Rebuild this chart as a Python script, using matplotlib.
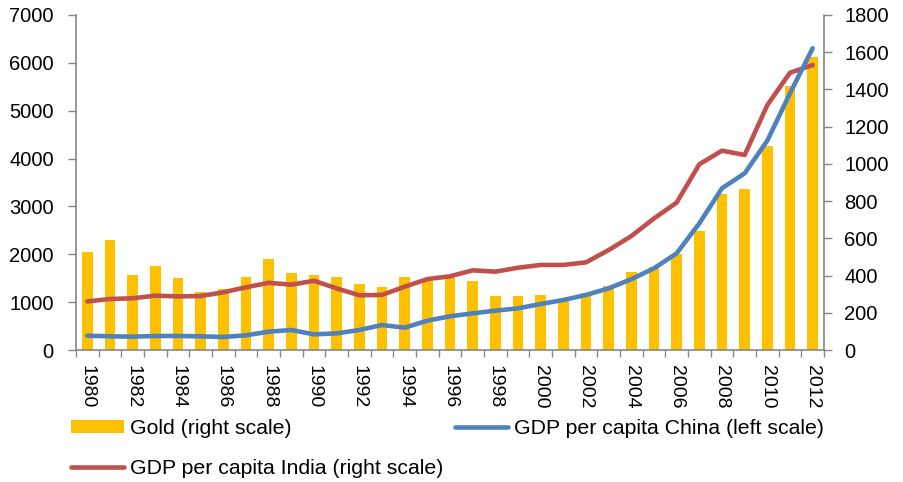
import matplotlib
matplotlib.use("Agg")
import matplotlib.pyplot as plt
import numpy as np

plt.rcParams['font.family'] = ['Liberation Sans', 'DejaVu Sans']

years = list(range(1980, 2013))
gold = [528, 591, 403, 450, 385, 313, 328, 392, 489, 414, 403, 394, 355, 337, 392,
        372, 388, 372, 290, 288, 294, 265, 305, 345, 418, 445, 514, 638, 840, 863,
        1098, 1418, 1576]
china = [299, 286, 279, 293, 293, 286, 272, 307, 383, 418, 327, 348, 418, 522, 467,
         613, 704, 766, 822, 871, 961, 1045, 1150, 1289, 1480, 1707, 2020, 2647, 3380,
         3692, 4375, 5365, 6305]
india = [261, 274, 278, 292, 288, 290, 310, 337, 361, 351, 372, 331, 294, 296, 340,
         381, 396, 428, 421, 442, 457, 457, 471, 537, 612, 707, 792, 998, 1071, 1048,
         1316, 1490, 1531]

gold_c = '#FFC000'
china_c = '#4F81BD'
india_c = '#C0504D'
axis_c = '#868686'

fig = plt.figure(figsize=(9.04, 4.82), dpi=100)
ax = fig.add_axes([76/904, 1-350/482, (824-76)/904, (350-15)/482])
ax2 = ax.twinx()

x = np.arange(len(years))
bars = ax2.bar(x, gold, width=0.48, color=gold_c, zorder=1)
lc, = ax.plot(x, china, color=china_c, lw=3.3, solid_capstyle='round', zorder=3)
li, = ax2.plot(x, india, color=india_c, lw=3.3, solid_capstyle='round', zorder=3)

# put primary axis (china line) on top of bars
ax.set_zorder(ax2.get_zorder() + 1)
ax.patch.set_visible(False)

ax.set_xlim(-0.5, len(years) - 0.5)
ax.set_ylim(0, 7000)
ax2.set_ylim(0, 1800)
ax.set_yticks(np.arange(0, 7001, 1000))
ax2.set_yticks(np.arange(0, 1801, 200))

ax.set_xticks(x[::2])
ax.set_xticklabels([str(y) for y in years[::2]], rotation=270, fontsize=14)
ax.set_xticks(np.arange(-0.5, len(years), 1), minor=True)
ax.tick_params(axis='x', which='major', length=0, pad=11)
ax.tick_params(axis='x', which='minor', length=5, width=1, color=axis_c, direction='out')

ax.tick_params(axis='y', labelsize=14.5, length=6, width=1, color=axis_c, pad=10)
ax2.tick_params(axis='y', labelsize=14.5, length=6, width=1, color=axis_c, pad=8.4)

for a in (ax, ax2):
    a.spines['top'].set_visible(False)
    for s in ('left', 'right', 'bottom'):
        a.spines[s].set_color(axis_c)
        a.spines[s].set_linewidth(1.2)
ax.spines['right'].set_visible(False)
ax2.spines['left'].set_visible(False)
ax2.spines['bottom'].set_visible(False)

leg = fig.legend([bars, li, lc],
                 ['Gold (right scale)', 'GDP per capita India (right scale)',
                  'GDP per capita China (left scale)'],
                 ncol=2, loc='upper left', bbox_to_anchor=(71/904, 1-419/482),
                 frameon=False, fontsize=15.3, handlelength=2.5, handleheight=0.58,
                 handletextpad=0.3, columnspacing=0.5, labelspacing=0.97,
                 borderpad=0, borderaxespad=0)

fig.savefig('out.png', dpi=100)
